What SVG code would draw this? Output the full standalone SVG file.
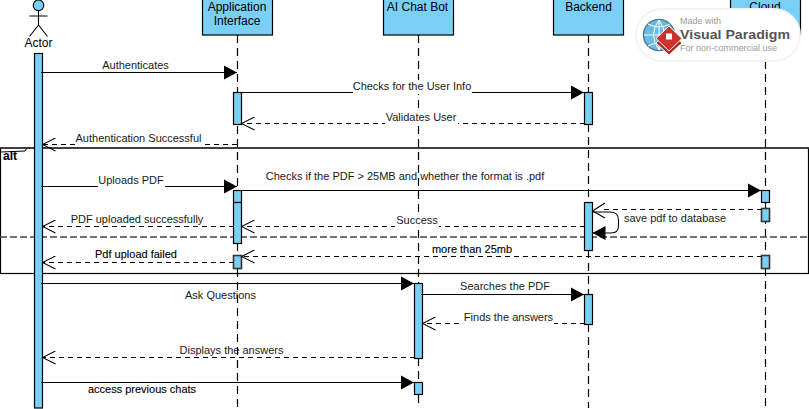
<svg xmlns="http://www.w3.org/2000/svg" width="809" height="409" viewBox="0 0 809 409">
<style>
text{font-family:"Liberation Sans",Arial,sans-serif;font-size:11px;fill:#1a1a1a;text-anchor:middle}
.h{font-size:12px;fill:#000}
.t{fill:#000;stroke:#000;stroke-width:.12}
.b{fill:#7acff5;stroke:#000;stroke-width:1.2}
.g{fill:#7acff5;stroke:#333;stroke-width:1.600}
.l{stroke:#000;stroke-width:1.2;stroke-dasharray:8 5;fill:none}
.m{stroke:#000;stroke-width:1.1;fill:none}
.d{stroke:#000;stroke-width:1.1;fill:none;stroke-dasharray:5 4}
.w{fill:#fff;stroke:none}
.s{font-size:9px;fill:#9a9a9a;text-anchor:start}
</style>
<defs>
<marker id="s" markerUnits="userSpaceOnUse" markerWidth="15" markerHeight="15" refX="14" refY="7.500" orient="auto"><path d="M1 0.500L14 7.500L1 14.500Z" fill="#000"/></marker>
<marker id="o" markerUnits="userSpaceOnUse" markerWidth="14" markerHeight="14" refX="13" refY="7" orient="auto"><path d="M0 0.500L13 7L0 13.500" fill="none" stroke="#000" stroke-width="1.100"/></marker>
</defs>
<rect width="809" height="409" fill="#fff"/>
<g id="lifelines">
<path class="l" d="M237.500 35V408M418.500 35V283M418.500 358V382M418.500 395V408M588.500 35V93M588.500 124V203M588.500 250V295M588.500 324V408M765.500 35V191M765.500 203V408"/>
</g>
<g id="frame">
<rect x="0.500" y="148" width="808" height="125.500" fill="none" stroke="#000" stroke-width="1.200"/>
<path d="M0 148H809" stroke="#333" stroke-width="1.600"/>
<path d="M1 152L25 151L27 148" fill="none" stroke="#000" stroke-width="1"/>
<text x="10" y="160" class="t" style="font-weight:bold;font-size:12px">alt</text>
<path d="M0 237H809" stroke="#777" stroke-width="1.300" stroke-dasharray="7 3"/>
<path d="M0 237H809" stroke="#000" stroke-width="0.500" stroke-dasharray="7 3"/>
</g>
<g id="actor">
<circle cx="38.500" cy="5.300" r="5.300" fill="#7acff5" stroke="#000" stroke-width="1.100"/>
<path class="m" d="M38.500 10.500V25M29.500 16H47.500M38.500 25L29.500 36.500M38.500 25L47.500 36.500"/>
<text class="h" x="38.500" y="47">Actor</text>
<rect class="b" x="34.500" y="53.500" width="8" height="354.500"/>
</g>
<g id="application-interface">
<rect class="b" x="202.500" y="-2" width="70" height="37"/>
<text class="h" x="237" y="11">Application</text>
<text class="h" x="237" y="25">Interface</text>
</g>
<g id="ai-chat-bot">
<rect class="b" x="383.500" y="-2" width="70" height="37"/>
<text class="h" x="417.500" y="11">AI Chat Bot</text>
</g>
<g id="backend">
<rect class="b" x="553.500" y="-2" width="70" height="37"/>
<text class="h" x="588.500" y="11">Backend</text>
</g>
<g id="cloud">
<rect class="b" x="730.500" y="-2" width="70" height="37"/>
<text class="h" x="765" y="11">Cloud</text>
</g>
<g id="activations">
<rect class="b" x="233.500" y="92.500" width="8" height="32"/>
<rect class="b" x="233.500" y="190.500" width="8" height="12"/>
<rect class="b" x="233.500" y="202.500" width="8" height="41"/>
<rect class="g" x="233.500" y="255.500" width="8" height="13"/>
<rect class="b" x="584.500" y="92.500" width="8" height="32"/>
<rect class="b" x="584.500" y="202.500" width="8" height="48"/>
<rect class="b" x="761.500" y="190.500" width="8" height="12"/>
<rect class="g" x="761.500" y="208.500" width="8" height="13"/>
<rect class="g" x="761.500" y="255.500" width="8" height="13"/>
<rect class="b" x="414.500" y="283.500" width="8" height="75"/>
<rect class="b" x="414.500" y="382.500" width="8" height="12"/>
<rect class="b" x="584.500" y="294.500" width="8" height="30"/>
</g>
<g id="connectors">
<path class="m" marker-end="url(#s)" d="M41 72.500H237"/>
<path class="m" marker-end="url(#s)" d="M241 92.500H584"/>
<path class="d" marker-end="url(#o)" d="M585 123.500H241.500"/>
<path class="d" marker-end="url(#o)" d="M237 144.500H42.500"/>
<path class="m" marker-end="url(#s)" d="M41 186.500H237"/>
<path class="m" marker-end="url(#s)" d="M241 190.500H761"/>
<path class="d" d="M762 209.500H600"/>
<path class="m" d="M605 203L592.500 211L605 218"/>
<path class="m" marker-end="url(#s)" d="M592 212H610Q618.500 212 618.500 220V226Q618.500 233 611 233H592.500"/>
<path class="d" marker-end="url(#o)" d="M585 226.500H241.500"/>
<path class="d" marker-end="url(#o)" d="M234 226.500H42.500"/>
<path class="d" marker-end="url(#o)" d="M762 256.500H241.500"/>
<path class="d" marker-end="url(#o)" d="M234 262.500H42.500"/>
<path class="m" marker-end="url(#s)" d="M41 283.500H414"/>
<path class="m" marker-end="url(#s)" d="M421 294.500H584"/>
<path class="d" marker-end="url(#o)" d="M585 323.500H422.500"/>
<path class="d" marker-end="url(#o)" d="M415 357.500H42.500"/>
<path class="m" marker-end="url(#s)" d="M41 382.500H414"/>
</g>
<g id="labels">
<text x="135.500" y="69">Authenticates</text>
<rect class="w" x="353" y="80" width="119" height="14"/>
<text x="412" y="90">Checks for the User Info</text>
<rect class="w" x="385" y="111" width="73" height="14"/>
<text x="421" y="121">Validates User</text>
<rect class="w" x="75" y="132" width="127" height="14"/>
<text x="138.500" y="142">Authentication Successful</text>
<rect class="w" x="98" y="174" width="67" height="14"/>
<text x="131" y="184">Uploads PDF</text>
<text x="405" y="180">Checks if the PDF &gt; 25MB and whether the format is .pdf</text>
<text x="137" y="223">PDF uploaded successfully</text>
<rect class="w" x="395" y="214" width="44" height="14"/>
<text x="417" y="224">Success</text>
<text x="675" y="222">save pdf to database</text>
<text x="136" y="258" class="t">Pdf upload failed</text>
<text x="472" y="253" class="t">more than 25mb</text>
<text x="220.500" y="299">Ask Questions</text>
<text x="505" y="290">Searches the PDF</text>
<rect class="w" x="463" y="312" width="91" height="14"/>
<text x="508.500" y="321">Finds the answers</text>
<text x="231.500" y="354">Displays the answers</text>
<text x="142" y="393" class="t">access previous chats</text>
</g>
<g id="watermark">
<rect x="636" y="9" width="164" height="52" rx="26" fill="#fff" stroke="#f3f3f3" stroke-width="2"/>
<circle cx="659" cy="35" r="15.500" fill="#6dbbe3" stroke="#4a7f95" stroke-width="1.500"/>
<path d="M644 35H674M659 20V50M648 24Q659 30 670 24M648 46Q659 40 670 46M659 20Q648 35 659 50M659 20Q670 35 659 50" fill="none" stroke="#fff" stroke-width="1"/>
<path d="M669 31L682 43L669 55L656 43Z" fill="#a92a25" stroke="#fff" stroke-width="1"/>
<path d="M669 26L682 38.500L669 51L656 38.500Z" fill="#c9352e" stroke="#fff" stroke-width="1"/>
<rect x="666" y="33.500" width="6" height="6" fill="#fff"/>
<text x="680" y="24" class="s">Made with</text>
<text x="680" y="38.500" textLength="110" lengthAdjust="spacingAndGlyphs" style="font-size:13px;font-weight:bold;fill:#555;text-anchor:start">Visual Paradigm</text>
<text x="680" y="50.500" class="s">For non-commercial use</text>
</g>
</svg>
